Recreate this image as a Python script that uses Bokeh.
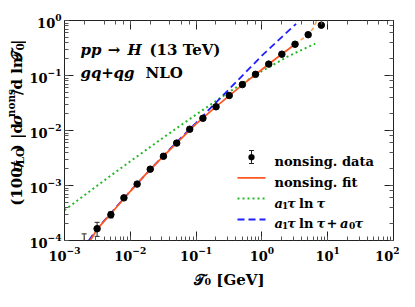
import math
from bokeh.plotting import figure
from bokeh.layouts import row
from bokeh.models import (LogAxis, LogTicker, Label, Arrow, TeeHead, Range1d,
                          CustomJSTickFormatter, BoxAnnotation, ColumnDataSource)
from bokeh.embed import file_html
from bokeh.resources import INLINE

# ---- data ----
tau = [0.00199, 0.00313, 0.00507, 0.0080, 0.0127, 0.0201, 0.0319, 0.0507, 0.080,
       0.127, 0.201, 0.319, 0.505, 0.80, 1.27, 2.01, 3.19, 5.05, 8.0]
nons = [6.0e-5, 1.64e-4, 2.95e-4, 5.96e-4, 1.06e-3, 1.98e-3, 3.4e-3, 5.9e-3, 0.01054,
        0.0167, 0.027, 0.0433, 0.0683, 0.105, 0.161, 0.244, 0.37, 0.552, 0.822]
nons_lo = [2.0e-5, 1.19e-4, 2.57e-4, 5.9e-4, 1.05e-3, 1.96e-3, 3.37e-3, 5.85e-3, 0.01045,
           0.0166, 0.0268, 0.043, 0.0678, 0.104, 0.16, 0.242, 0.367, 0.547, 0.80]
nons_hi = [1.32e-4, 2.14e-4, 3.31e-4, 6.02e-4, 1.07e-3, 2.0e-3, 3.43e-3, 5.95e-3, 0.01063,
           0.0168, 0.0272, 0.0436, 0.0688, 0.106, 0.162, 0.246, 0.373, 0.557, 0.845]

fit_x = [0.002455, 0.003162, 0.005623, 0.01, 0.01778, 0.03162, 0.05623, 0.1, 0.1778,
         0.3162, 0.5623, 1.0, 1.778, 3.19]
fit_y = [1.0e-4, 1.622e-4, 3.548e-4, 7.85e-4, 1.679e-3, 3.388e-3, 6.68e-3, 0.01318,
         0.02399, 0.04266, 0.0750, 0.1288, 0.2188, 0.370]
fit_ext_x = [3.19, 5.01, 6.03, 6.84]
fit_ext_y = [0.370, 0.55, 0.724, 1.0]

lead_x = [0.001, 0.003162, 0.01, 0.03162, 0.1, 0.3162, 1.0, 2.512, 6.457]
lead_y = [3.548e-4, 1.0e-3, 2.754e-3, 7.413e-3, 0.0195, 0.0501, 0.1202, 0.2239, 0.380]

full_x = [0.002344, 0.003162, 0.01, 0.03162, 0.1, 0.3162, 1.0, 3.311]
full_y = [1.0e-4, 1.66e-4, 7.94e-4, 3.467e-3, 0.0138, 0.0562, 0.2291, 0.871]

x_min, x_max = 1e-3, 1e2
y_min, y_max = 1e-4, 1.0
x_title = "𝒯₀ [GeV]"

FONT = "DejaVu Serif"
INK = "#222222"
ORANGE = "#ff5722"
ORANGE_LT = "#ff9a40"
GREEN = "#22bb22"
BLUE = "#1f1fff"
B, BI = "bold", "bold italic"

# approximate DejaVu Serif Bold advance widths (em)
W = {'(': 0.49, ')': 0.49, '/': 0.37, ' ': 0.348, '|': 0.37, '.': 0.380, '+': 0.838,
     '[': 0.473, ']': 0.473, '→': 0.838, 'σ': 0.70, 'τ': 0.62, '𝒯': 0.90,
     'L': 0.78, 'O': 0.86, 'T': 0.757, 'V': 0.87, 'G': 0.84, 'H': 0.95, 'N': 0.95,
     'a': 0.675, 'd': 0.76, 'e': 0.678, 'f': 0.47, 'g': 0.76, 'i': 0.421, 'l': 0.421,
     'n': 0.76, 'o': 0.69, 'p': 0.76, 'q': 0.76, 's': 0.6, 't': 0.478}
for c in "0123456789":
    W[c] = 0.696


def tw(s, size):
    return sum(W.get(c, 0.6) for c in s) * size


def mk_label(fig, x, y, text, size, style, angle=0.0, units="screen", align="left"):
    fig.add_layout(Label(x=x, y=y, x_units=units, y_units=units, text=text,
                         text_font=FONT, text_font_size=f"{size}px", text_font_style=style,
                         text_align=align, text_baseline="alphabetic", angle=angle,
                         text_color="black"))


YW = 26  # width of the narrow title figure

# ---------------- main plot ----------------
p = figure(width=399 - YW, height=291, x_axis_type="log", y_axis_type="log",
           x_range=Range1d(x_min, x_max), y_range=Range1d(y_min, y_max),
           output_backend="svg", toolbar_location=None,
           min_border_left=59 - YW, min_border_right=6, min_border_top=20, min_border_bottom=49)
p.grid.visible = False
p.outline_line_color = INK
p.background_fill_color = "white"
p.border_fill_color = "white"


def style_axis(ax, labels=True):
    ax.axis_line_color = INK
    ax.major_tick_line_color = INK
    ax.minor_tick_line_color = "#555555"
    ax.major_tick_in = 9
    ax.major_tick_out = 0
    ax.minor_tick_in = 4
    ax.minor_tick_out = 0
    if labels:
        ax.major_label_text_font = FONT
        ax.major_label_text_font_style = "bold"
        ax.major_label_text_font_size = "13px"
        ax.major_label_text_color = "black"
    else:
        ax.axis_label = None
        ax.formatter = CustomJSTickFormatter(code="return ''")
        ax.major_label_standoff = 0
        ax.major_label_text_font_size = "1px"


style_axis(p.xaxis[0])
style_axis(p.yaxis[0])
p.yaxis[0].axis_label = None
p.xaxis[0].major_label_standoff = 6
p.yaxis[0].major_label_standoff = 3
p.xaxis[0].axis_label = x_title
p.xaxis[0].axis_label_text_font = FONT
p.xaxis[0].axis_label_text_font_style = "bold"
p.xaxis[0].axis_label_text_font_size = "15px"
p.xaxis[0].axis_label_text_color = "black"
p.xaxis[0].axis_label_standoff = 7
top = LogAxis(ticker=LogTicker())
style_axis(top, labels=False)
p.add_layout(top, "above")
right = LogAxis(ticker=LogTicker())
style_axis(right, labels=False)
p.add_layout(right, "right")

p.line(lead_x, lead_y, line_color=GREEN, line_width=2, line_dash="2 3")
p.line(full_x, full_y, line_color=BLUE, line_width=1.8, line_dash="7 4")
p.line(fit_ext_x, fit_ext_y, line_color=ORANGE_LT, line_width=1.5, line_dash="4 3")
p.line(fit_x, fit_y, line_color=ORANGE, line_width=1.8)

src = ColumnDataSource(dict(x=tau, y=nons, lo=nons_lo, hi=nons_hi))
p.segment(x0="x", y0="lo", x1="x", y1="hi", source=src, line_color=INK, line_width=1)
p.scatter(x="x", y="hi", source=src, marker="dash", size=5, line_color=INK, line_width=1)
p.scatter(x="x", y="lo", source=src, marker="dash", size=5, line_color=INK, line_width=1)
p.scatter(x="x", y="y", source=src, marker="circle", size=6.5, fill_color="black",
          line_color="black")

FX0, FY0 = 67, 250  # page position of the frame's bottom-left corner


def put(text, px, py, size, style, align="left"):
    mk_label(p, px - FX0, FY0 - py, text, size, style, align=align)


# in-plot process label
put("pp", 83, 59, 15, BI)
put("→", 116.5, 59, 15, B, align="center")
put("H", 130, 59, 15, BI)
put("(13 TeV)", 152, 59, 15, B)
put("gq", 83, 82, 15, BI)
put("+", 110, 82, 15, B, align="center")
put("qg", 116, 82, 15, BI)
put("NLO", 148, 82, 15, B)

# legend text
LS, SS = 13, 9
base = [171.0, 191.5, 212.5, 232.5]
put("nonsing. data", 277, base[0], LS, B)
put("nonsing. fit", 277, base[1], LS, B)
for r in (2, 3):
    y = base[r]
    put("a", 277, y, LS, BI)
    put("1", 284.5, y + 2.5, SS, B)
    put("τ", 289.5, y, LS, BI)
    put("ln", 301.5, y, LS, B)
    put("τ", 319, y, LS, BI)
put("+", 334.5, base[3], LS, B, align="center")
put("a", 342.5, base[3], LS, BI)
put("0", 351.5, base[3] + 2.5, SS, B)
put("τ", 357, base[3], LS, BI)

# legend samples
rows = [166.7, 187.3, 208.0, 229.0]


def seg(px0, py0, px1, py1, **kw):
    p.add_layout(Arrow(x_start=px0 - FX0, y_start=FY0 - py0, x_end=px1 - FX0, y_end=FY0 - py1,
                       start_units="screen", end_units="screen", **kw))


seg(254, 173, 254, 160, start=TeeHead(size=5, line_color=INK, line_width=1),
    end=TeeHead(size=5, line_color=INK, line_width=1), line_color=INK, line_width=1)
p.add_layout(BoxAnnotation(left=254 - FX0 - 3, right=254 - FX0 + 3,
                           bottom=FY0 - rows[0] - 3, top=FY0 - rows[0] + 3,
                           left_units="screen", right_units="screen",
                           bottom_units="screen", top_units="screen",
                           fill_color="black", fill_alpha=1, line_color="black",
                           border_radius=3))
seg(240, rows[1], 268, rows[1], end=None, line_color=ORANGE, line_width=1.8)
seg(240, rows[2], 268, rows[2], end=None, line_color=GREEN, line_width=2, line_dash="2 3")
seg(240, rows[3], 268, rows[3], end=None, line_color=BLUE, line_width=1.8, line_dash="7 4")

# ---------------- narrow figure carrying the rotated y title ----------------
ylab = figure(width=YW, height=291, x_range=Range1d(0, YW), y_range=Range1d(0, 291),
              output_backend="svg", toolbar_location=None, min_border=0,
              x_axis_location=None, y_axis_location=None)
ylab.grid.visible = False
ylab.outline_line_color = None
ylab.background_fill_color = "white"
ylab.border_fill_color = "white"

ypieces = [("(100/", 15, 0, B), ("σ", 15, 0, BI), ("LO", 10.5, -3.5, B), (")  |d", 15, 0, B),
           ("σ", 15, 0, BI), ("nons", 10.5, 6, B), ("/d ln ", 15, 0, B), ("𝒯", 15, 0, B),
           ("0", 10.5, -3.5, B), ("|", 15, 0, B)]
ylen = sum(tw(t, s) for t, s, _, _ in ypieces)
bx, by = 16.0, 155 - ylen / 2
adv = 0.0
for t, s, sh, st in ypieces:
    mk_label(ylab, bx - sh, by + adv, t, s, st, angle=math.pi / 2, units="data")
    adv += tw(t, s)

layout = row(ylab, p)
open("out.html", "w").write(file_html(layout, INLINE))
